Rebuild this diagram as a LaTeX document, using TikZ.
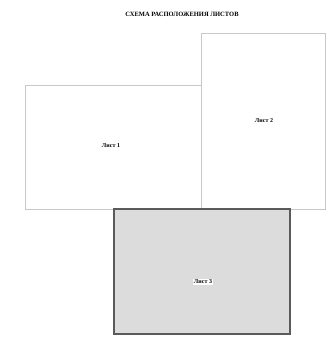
\documentclass[tikz,border=0pt]{standalone}
\usepackage{fontspec}
\setmainfont{Liberation Serif}
\usepackage{tikz}
\usetikzlibrary{positioning}
\definecolor{sheetline}{RGB}{200,200,200}
\definecolor{sheetfill}{RGB}{220,220,220}
\definecolor{curline}{RGB}{90,90,90}
\begin{document}
\begin{tikzpicture}[x=1pt,y=-1pt]
\tikzstyle{every node}=[inner sep=1pt,font=\fontsize{6}{7}\selectfont\bfseries]
\tikzstyle{sheet}=[draw=sheetline,line width=0.6pt,fill=white]
\tikzstyle{cursheet}=[draw=curline,line width=1.2pt,fill=sheetfill]
\useasboundingbox (0,0) rectangle (335,338);
\node[font=\fontsize{6.5}{7}\selectfont\bfseries] (title) at (182,14) {СХЕМА РАСПОЛОЖЕНИЯ ЛИСТОВ};
% sheets
\draw[sheet] (25,85) rectangle (201,209);
\node (l1) at (111,146) {Лист 1};
\draw[sheet] (201,33) rectangle (325,209);
\node (l2) at (264,121) {Лист 2};
\draw[cursheet] (114,209) rectangle (290,334);
\node[fill=white] (l3) at (203,282) {Лист 3};
\end{tikzpicture}
\end{document}
